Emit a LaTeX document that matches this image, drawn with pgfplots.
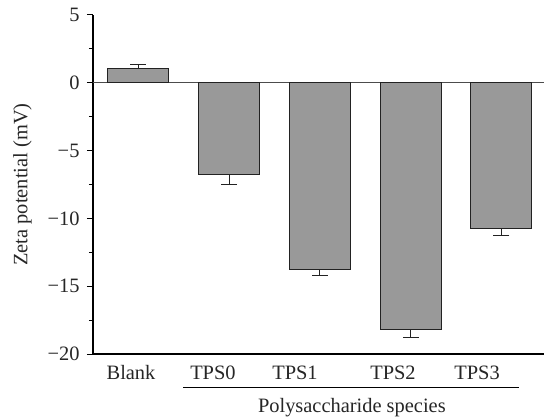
\documentclass[border=0pt]{standalone}
\usepackage{fontspec}
\setmainfont{Liberation Serif}
\usepackage{pgfplots}
\pgfplotsset{compat=1.18}
\definecolor{barfill}{HTML}{999999}
\definecolor{edge}{HTML}{222222}
\begin{document}
\begin{tikzpicture}
\useasboundingbox (-93bp,-65bp) rectangle (451bp,354bp);
\begin{axis}[
  at={(0,0)}, anchor=south west,
  scale only axis, width=451bp, height=339bp,
  xmin=-0.5, xmax=4.47, ymin=-20, ymax=5,
  axis x line*=bottom, axis y line*=left,
  axis line style={line width=1.1bp, black},
  xtick={-0.081,0.822,1.726,2.806,3.732},
  xticklabels={Blank,TPS0,TPS1,TPS2,TPS3},
  x tick style={draw=none},
  ytick={-20,-15,-10,-5,0,5},
  yticklabels={−20,−15,−10,−5,0,5},
  minor y tick num=1,
  tick align=outside,
  major tick length=6bp, minor tick length=4bp,
  y tick style={line width=1bp,black},
  tick label style={font=\fontsize{20.5}{24}\selectfont, text=black!85},
  label style={font=\fontsize{20.5}{24}\selectfont, text=black!85},
  yticklabel style={xshift=-4bp},
  xticklabel style={yshift=-2bp},
  ylabel={Zeta potential (mV)},
  ylabel shift=9bp,
  xlabel={Polysaccharide species},
  xlabel style={at={(rel axis cs:0.574,0)}, anchor=center, yshift=-54bp},
  clip=false,
]
\draw[gray!60!black, line width=1bp] (axis cs:-0.5,0) -- (axis cs:4.47,0);
\addplot[ybar, bar width=61bp, bar shift=0pt, fill=barfill, draw=edge, line width=1.1bp,
  error bars/.cd, y dir=plus, y explicit,
  error bar style={line width=1.1bp, edge},
  error mark options={rotate=90, mark size=8bp, line width=1.1bp, edge}]
  table[x=x, y=y, y error=e] {
x y e
0 1.03 0.32
};
\addplot[ybar, bar width=61bp, bar shift=0pt, fill=barfill, draw=edge, line width=1.1bp,
  error bars/.cd, y dir=minus, y explicit,
  error bar style={line width=1.1bp, edge},
  error mark options={rotate=90, mark size=8bp, line width=1.1bp, edge}]
  table[x=x, y=y, y error=e] {
x y e
1 -6.77 0.71
2 -13.74 0.49
3 -18.17 0.58
4 -10.73 0.55
};
\draw[line width=1bp, black] ([yshift=-33bp]axis cs:0.492,-20) -- ([yshift=-33bp]axis cs:4.195,-20);
\end{axis}
\end{tikzpicture}
\end{document}
